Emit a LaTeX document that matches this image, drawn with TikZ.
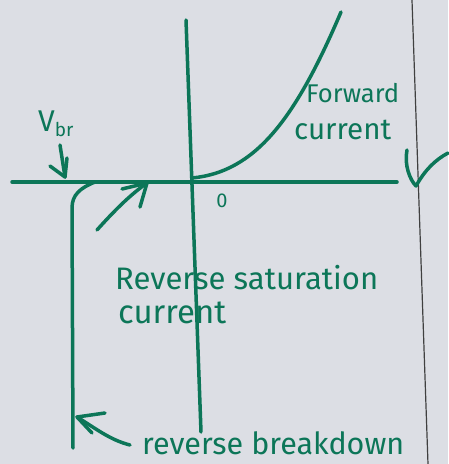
\documentclass[tikz,border=0pt]{standalone}
\usepackage{fontspec}
\setmainfont{Fira Sans}
\definecolor{pen}{RGB}{12,118,88}
\definecolor{paper}{RGB}{220,222,228}
\begin{document}
\begin{tikzpicture}[x=1pt,y=-1pt,
  pen/.style={draw=pen, line width=3.5pt, line cap=round, line join=round},
  lbl/.style={text=pen, inner sep=0pt}]
\fill[paper] (0,0) rectangle (448,464);
\useasboundingbox (0,0) rectangle (448,464);
% margin line
\coordinate (mt) at (412,0);
\coordinate (mb) at (428,464);
\draw[black!75, line width=1.2pt] (mt) -- (mb);
% axes
\coordinate (hl) at (12,182);
\coordinate (hr) at (397,182);
\coordinate (vt) at (186,20);
\coordinate (vb) at (201,432);
\draw[pen] (hl) -- (hr);
\draw[pen] (vt) -- (vb);
% forward curve
\coordinate (o) at (192,178);
\coordinate (ft) at (341,12);
\draw[pen] (o) .. controls (255,172) and (295,120) .. (ft);
% reverse curve
\coordinate (rs) at (95,182);
\coordinate (rk) at (72,208);
\coordinate (rb) at (73,448);
\draw[pen] (rs) .. controls (80,188) and (72,195) .. (rk) -- (rb);
% saturation arrow
\coordinate (sa) at (97,230);
\coordinate (sb) at (147,183);
\draw[pen] (sa) .. controls (115,210) and (130,195) .. (sb);
\draw[pen] (122,189) -- (sb) -- (140,207);
% breakdown arrow
\coordinate (ba) at (130,445);
\coordinate (bb) at (77,417);
\draw[pen] (ba) .. controls (110,440) and (95,428) .. (bb);
\draw[pen] (105,413) -- (bb) -- (92,433);
% Vbr arrow
\coordinate (va) at (60,145);
\coordinate (vbb) at (65,177);
\draw[pen] (va) -- (vbb);
\draw[pen] (50,166) -- (vbb) -- (67,158);
% check mark
\coordinate (c1) at (407,150);
\coordinate (c2) at (416,186);
\coordinate (c3) at (448,153);
\draw[pen] (c1) .. controls (404,165) and (410,180) .. (c2) .. controls (425,170) and (435,160) .. (c3);
% labels
\node[lbl, anchor=west] (fw) at (306,93) {\resizebox{93pt}{!}{Forward}};
\node[lbl, anchor=west] (fc) at (294,130) {\resizebox{97pt}{!}{current}};
\node[lbl] (zero) at (222,201) {\fontsize{20}{22}\selectfont 0};
\node[lbl, anchor=west] (vbr) at (38,124) {\fontsize{30}{32}\selectfont V\raisebox{-5pt}{\fontsize{19}{20}\selectfont br}};
\node[lbl, anchor=west] (rs1) at (115,278) {\resizebox{263pt}{!}{Reverse saturation}};
\node[lbl, anchor=west] (rs2) at (118,313) {\resizebox{108pt}{!}{current}};
\node[lbl, anchor=west] (rbd) at (142,443) {\resizebox{262pt}{!}{reverse breakdown}};
\end{tikzpicture}
\end{document}
